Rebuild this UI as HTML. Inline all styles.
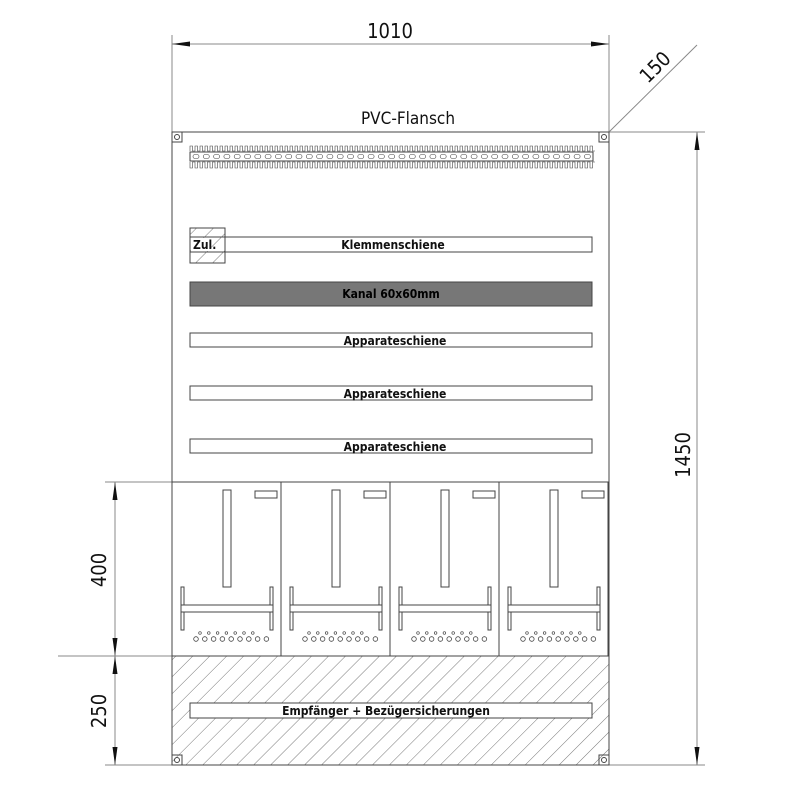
<!DOCTYPE html>
<html><head><meta charset="utf-8"><style>
html,body{margin:0;padding:0;background:#fff;}
svg{display:block;}
text{font-family:"DejaVu Sans Condensed","Liberation Sans Narrow","Liberation Sans",sans-serif;fill:#111;}
.l{font-weight:bold;font-size:12px;}
</style></head><body>
<svg id="s" width="800" height="800" viewBox="0 0 800 800" xmlns="http://www.w3.org/2000/svg">
<defs>
<pattern id="h" patternUnits="userSpaceOnUse" width="12" height="12" patternTransform="rotate(45)">
<line x1="0" y1="0" x2="0" y2="12" stroke="#555" stroke-width="0.8"/>
</pattern>
</defs>
<g stroke="#444" fill="none" stroke-width="1">
<rect x="172" y="132" width="437" height="633"/>
<rect x="172" y="656" width="437" height="109" fill="url(#h)"/>
<line x1="172" y1="35" x2="172" y2="132" stroke="#888"/>
<line x1="609" y1="35" x2="609" y2="132" stroke="#888"/>
<line x1="172" y1="44" x2="609" y2="44" stroke="#888"/>
<line x1="609" y1="132" x2="697" y2="45" stroke="#888"/>
<line x1="609" y1="132" x2="705" y2="132" stroke="#888"/>
<line x1="609" y1="765" x2="705" y2="765" stroke="#888"/>
<line x1="697" y1="132" x2="697" y2="765" stroke="#888"/>
<line x1="105" y1="482" x2="172" y2="482" stroke="#888"/>
<line x1="58" y1="656" x2="172" y2="656" stroke="#888"/>
<line x1="105" y1="765" x2="172" y2="765" stroke="#888"/>
<line x1="115" y1="482" x2="115" y2="765" stroke="#888"/>
<rect x="172" y="132" width="10" height="10"/><circle cx="177" cy="137" r="2.5"/>
<rect x="599" y="132" width="10" height="10"/><circle cx="604" cy="137" r="2.5"/>
<rect x="172" y="755" width="10" height="10"/><circle cx="177" cy="760" r="2.5"/>
<rect x="599" y="755" width="10" height="10"/><circle cx="604" cy="760" r="2.5"/>
<rect x="190" y="152" width="403" height="9"/>
<g id="strip"></g>
<rect x="190" y="237" width="402" height="15"/>
<rect x="190" y="228" width="35" height="35" fill="url(#h)"/>
<rect x="190" y="282" width="402" height="24" fill="#777"/>
<rect x="190" y="333" width="402" height="14"/>
<rect x="190" y="386" width="402" height="14"/>
<rect x="190" y="439" width="402" height="14"/>
<rect x="190" y="703" width="402" height="15" fill="#fff"/>
<g id="mods"></g>
</g>
<g fill="#111">
<polygon points="172,44 190,41.5 190,46.5"/>
<polygon points="609,44 591,41.5 591,46.5"/>
<polygon points="697,132 694.5,150 699.5,150"/>
<polygon points="697,765 694.5,747 699.5,747"/>
<polygon points="115,482 112.5,500 117.5,500"/>
<polygon points="115,656 112.5,638 117.5,638"/>
<polygon points="115,656 112.5,674 117.5,674"/>
<polygon points="115,765 112.5,747 117.5,747"/>
</g>
<rect x="191" y="238" width="20" height="13" fill="#fff"/>
<text x="390" y="38" font-size="20" text-anchor="middle">1010</text>
<text x="408" y="124" font-size="17" text-anchor="middle">PVC-Flansch</text>
<text transform="translate(660,72) rotate(-45)" font-size="20" text-anchor="middle">150</text>
<text transform="translate(690,455) rotate(-90)" font-size="20" text-anchor="middle">1450</text>
<text transform="translate(106,570) rotate(-90)" font-size="20" text-anchor="middle">400</text>
<text transform="translate(106,711) rotate(-90)" font-size="20" text-anchor="middle">250</text>
<text class="l" x="193" y="249">Zul.</text>
<text class="l" x="393" y="249" text-anchor="middle">Klemmenschiene</text>
<text class="l" x="391" y="298" text-anchor="middle" style="fill:#000">Kanal 60x60mm</text>
<text class="l" x="395" y="345" text-anchor="middle">Apparateschiene</text>
<text class="l" x="395" y="398" text-anchor="middle">Apparateschiene</text>
<text class="l" x="395" y="451" text-anchor="middle">Apparateschiene</text>
<text class="l" x="386" y="715" text-anchor="middle">Empfänger + Bezügersicherungen</text>
<script>
var NS="http://www.w3.org/2000/svg";
function el(p,t,a){var e=document.createElementNS(NS,t);for(var k in a)e.setAttribute(k,a[k]);p.appendChild(e);return e;}
var st=document.getElementById('strip');
var d1="M190,151",d2="M190,162";
for(var x=190;x<592;x+=5){d1+=" L"+x+",146 L"+(x+2.5)+",146 L"+(x+2.5)+",151 L"+(x+5)+",151";d2+=" L"+x+",168 L"+(x+2.5)+",168 L"+(x+2.5)+",162 L"+(x+5)+",162";}
el(st,'path',{d:d1,'stroke-width':0.6});el(st,'path',{d:d2,'stroke-width':0.6});
for(var x=193;x<588;x+=10.3){el(st,'rect',{x:x,y:154.5,width:6,height:4,rx:2,'stroke-width':0.6});}
var m=document.getElementById('mods');
[172,281,390,499].forEach(function(o){
 el(m,'rect',{x:o,y:482,width:109,height:174});
 el(m,'rect',{x:o+51,y:490,width:8,height:97});
 el(m,'rect',{x:o+83,y:491,width:22,height:7});
 el(m,'rect',{x:o+9,y:587,width:3,height:43});
 el(m,'rect',{x:o+98,y:587,width:3,height:43});
 el(m,'rect',{x:o+9,y:605,width:92,height:7,fill:'#fff'});
 for(var i=0;i<9;i++)el(m,'circle',{cx:o+24+i*8.8,cy:639,r:2.3,'stroke-width':0.8});
 for(var i=0;i<7;i++)el(m,'circle',{cx:o+28+i*8.8,cy:633,r:1.3,'stroke-width':0.7});
});
</script>
</svg>
</body></html>
